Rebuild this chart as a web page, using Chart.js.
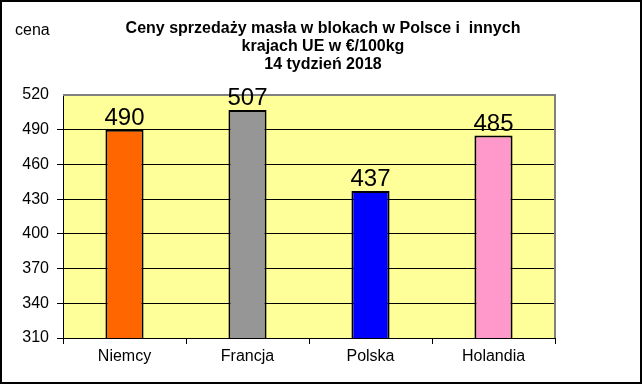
<!DOCTYPE html>
<html>
<head>
<meta charset="utf-8">
<script src="https://cdn.jsdelivr.net/npm/chart.js@4.4.1/dist/chart.umd.min.js"></script>
<style>
  html, body { margin: 0; padding: 0; background: #fff; }
  canvas { display: block; }
</style>
</head>
<body>
<canvas id="myChart" width="642" height="385"></canvas>
<script>
// Daten
const kategorien = ['Niemcy', 'Francja', 'Polska', 'Holandia'];
const preise = [490, 507, 437, 485];
const balkenFarben = ['#FF6600', '#969696', '#0000FF', '#FF99CC'];
const titelZeilen = ['Ceny sprzedaży masła w blokach w Polsce i  innych', 'krajach UE w €/100kg', '14 tydzień 2018'];
const achsenTitel = 'cena';
const yMin = 310;
const yMax = 520;
const ySchritt = 30;

const schrift = "'Liberation Sans', Arial, sans-serif";

// Hintergrund, Rahmen, Titel und Beschriftungen
const rahmenPlugin = {
  id: 'rahmen',
  beforeDraw(chart) {
    const c = chart.ctx;
    const a = chart.chartArea;
    c.save();
    c.fillStyle = '#fff';
    c.fillRect(0, 0, chart.width, chart.height);
    c.fillStyle = '#FFFF99';
    c.fillRect(a.left, a.top, a.right - a.left, a.bottom - a.top);
    c.strokeStyle = '#000';
    c.lineWidth = 2;
    c.strokeRect(1, 1, chart.width - 2, chart.height - 3);

    c.fillStyle = '#000';
    c.font = '16px ' + schrift;
    c.textAlign = 'left';
    c.textBaseline = 'alphabetic';
    c.fillText(achsenTitel, 15, 35);

    // Titel (mittig über dem ganzen Bild, nicht nur über der Grafik)
    c.font = 'bold 16px ' + schrift;
    c.textAlign = 'center';
    titelZeilen.forEach((zeile, i) => {
      c.fillText(zeile, 323, 33 + i * 18);
    });
    c.restore();
  },
  beforeDatasetsDraw(chart) {
    // grauer Rahmen oben und rechts
    const c = chart.ctx;
    const a = chart.chartArea;
    c.save();
    c.strokeStyle = '#808080';
    c.lineWidth = 2;
    c.beginPath();
    c.moveTo(a.left, a.top);
    c.lineTo(a.right, a.top);
    c.lineTo(a.right, a.bottom);
    c.stroke();
    c.restore();
  },
  afterDatasetsDraw(chart) {
    // Werte über den Balken
    const c = chart.ctx;
    c.save();
    c.fillStyle = '#000';
    c.font = '24px ' + schrift;
    c.textAlign = 'center';
    c.textBaseline = 'alphabetic';
    chart.getDatasetMeta(0).data.forEach((bar, i) => {
      c.fillText(String(preise[i]), bar.x, bar.y - 5);
    });
    c.restore();
  }
};

const chart = new Chart(document.getElementById('myChart'), {
  type: 'bar',
  data: {
    labels: kategorien,
    datasets: [{
      data: preise,
      backgroundColor: balkenFarben,
      borderColor: '#000',
      borderWidth: 2,
      borderSkipped: false,
      barPercentage: 0.31,
      categoryPercentage: 1
    }]
  },
  options: {
    responsive: false,
    animation: false,
    devicePixelRatio: 1,
    layout: {
      padding: { left: 0, right: 87, top: 95, bottom: 0 }
    },
    plugins: {
      legend: { display: false },
      tooltip: { enabled: false },
      title: { display: false }
    },
    scales: {
      x: {
        grid: {
          display: true,
          drawOnChartArea: false,
          drawTicks: true,
          tickLength: 6,
          color: '#000',
          offset: true
        },
        border: { color: '#000', width: 1 },
        ticks: {
          color: '#000',
          font: { family: schrift, size: 16 },
          padding: 3,
          maxRotation: 0
        },
        afterFit(scale) { scale.height = 47; }
      },
      y: {
        min: yMin,
        max: yMax,
        grid: {
          color: (ctx) => (ctx.tick && ctx.tick.value === yMax ? 'rgba(0,0,0,0)' : '#000'),
          lineWidth: 1,
          tickLength: 6
        },
        border: { color: '#000', width: 1 },
        ticks: {
          stepSize: ySchritt,
          color: '#000',
          font: { family: schrift, size: 16 },
          padding: 8
        },
        afterFit(scale) { scale.width = 63; }
      }
    }
  },
  plugins: [rahmenPlugin]
});
</script>
</body>
</html>
